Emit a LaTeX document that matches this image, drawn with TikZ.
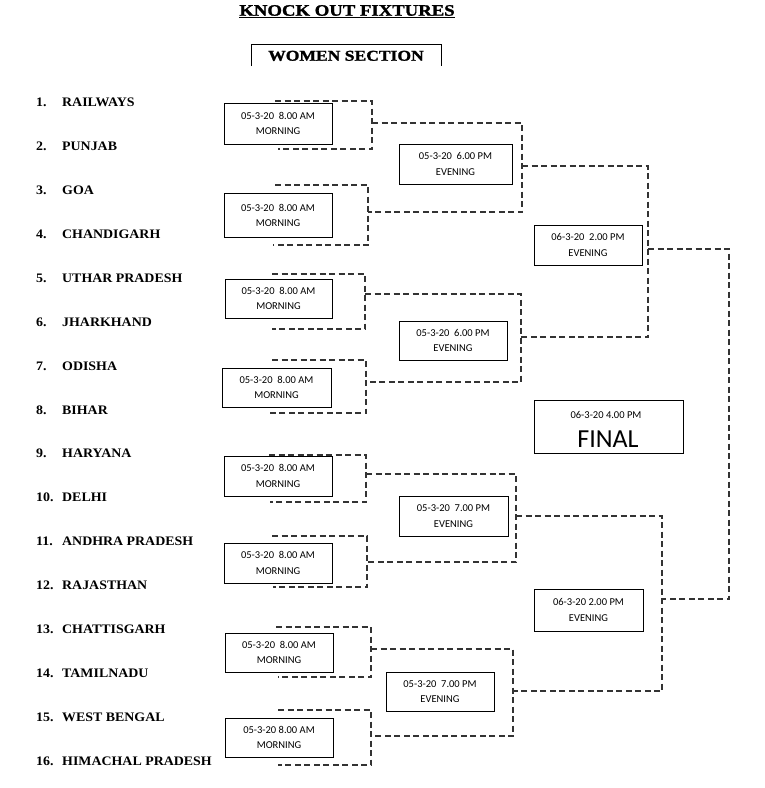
\documentclass[tikz,border=0pt]{standalone}
\usepackage{fontspec}
\newfontfamily\teamfont[FakeStretch=1.07]{Liberation Serif}
\newfontfamily\boxfont{Carlito}
\newfontfamily\titlefont[FakeStretch=1.17,FakeBold=1.5]{Liberation Serif}
\tikzset{
  mbox/.style={draw, line width=0.9pt, inner sep=0pt, align=center,
    font=\boxfont\fontsize{10.5}{15.5}\selectfont},
  bline/.style={draw=black!80, line width=1.3pt, dash pattern=on 6pt off 3.5pt},
  teamnum/.style={anchor=base west, inner sep=0pt, font=\teamfont\bfseries\fontsize{13}{13}\selectfont},
  frame/.style={line width=0.9pt}
}
\newcommand{\brk}[6]{%
  \coordinate (#1a) at (#2,#3);
  \coordinate (#1b) at (#4,#3);
  \coordinate (#1c) at (#4,#6);
  \coordinate (#1d) at (#5,#6);
  \draw[bline] (#1a) -- (#1b) -- (#1c) -- (#1d);}
\begin{document}
\begin{tikzpicture}[x=1pt,y=-1pt]
\useasboundingbox (0,0) rectangle (765,788);
% titles
\node[anchor=base, inner sep=0pt, font=\titlefont\bfseries\fontsize{16}{16}\selectfont] (title) at (347,15.7) {KNOCK OUT FIXTURES};
\draw[line width=1.1pt] ([yshift=-2pt]title.base west) -- ([yshift=-2pt]title.base east);
\node[anchor=base, inner sep=0pt, font=\titlefont\bfseries\fontsize{15}{15}\selectfont] (ws) at (346,60.7) {WOMEN SECTION};
\coordinate (wsA) at (251,66); \coordinate (wsB) at (251,44);
\coordinate (wsC) at (441,44); \coordinate (wsD) at (441,66);
\draw[frame] (wsA) -- (wsB) -- (wsC) -- (wsD);
% teams
\foreach \i/\t in {1/RAILWAYS,2/PUNJAB,3/GOA,4/CHANDIGARH,5/UTHAR PRADESH,6/JHARKHAND,7/ODISHA,8/BIHAR,9/HARYANA,10/DELHI,11/ANDHRA PRADESH,12/RAJASTHAN,13/CHATTISGARH,14/TAMILNADU,15/WEST BENGAL,16/HIMACHAL PRADESH}{
  \node[teamnum] (n\i) at (36,{106.5+43.93*(\i-1)}) {\i.};
  \node[teamnum] (t\i) at (62,{106.5+43.93*(\i-1)}) {\t};
}
% round 1 brackets
\brk{B1}{275}{101}{372}{278}{149}
\brk{B2}{275}{185}{368}{273}{245}
\brk{B3}{272}{274}{365}{272}{329}
\brk{B4}{272}{360}{366}{270}{413}
\brk{B5}{269}{455}{366}{270}{502}
\brk{B6}{272}{536}{367}{273}{587}
\brk{B7}{276}{627}{371}{278}{677}
\brk{B8}{278}{710}{371}{278}{765}
% round 2 brackets
\brk{R2a}{372}{123}{522}{368}{212}
\brk{R2b}{365}{294}{521}{366}{382}
\brk{R2c}{366}{474}{516}{367}{562}
\brk{R2d}{371}{649}{513}{371}{736}
% round 3 brackets
\brk{R3a}{522}{166}{648}{521}{337}
\brk{R3b}{516}{516}{662}{513}{691}
% final bracket
\brk{F}{648}{249}{729}{662}{599}
% round 1 boxes
\node[mbox, minimum width=108pt, minimum height=41pt] (m1) at (278,123.5) {05-3-20\ \ 8.00 AM\\MORNING};
\node[mbox, minimum width=108pt, minimum height=44pt] (m2) at (278,215.5) {05-3-20\ \ 8.00 AM\\MORNING};
\node[mbox, minimum width=107pt, minimum height=39pt] (m3) at (278.5,298.5) {05-3-20\ \ 8.00 AM\\MORNING};
\node[mbox, minimum width=109pt, minimum height=39pt] (m4) at (276.5,387.5) {05-3-20\ \ 8.00 AM\\MORNING};
\node[mbox, minimum width=108pt, minimum height=40pt] (m5) at (278,476) {05-3-20\ \ 8.00 AM\\MORNING};
\node[mbox, minimum width=108pt, minimum height=40pt] (m6) at (278,563) {05-3-20\ \ 8.00 AM\\MORNING};
\node[mbox, minimum width=108pt, minimum height=39pt] (m7) at (279,652.5) {05-3-20\ \ 8.00 AM\\MORNING};
\node[mbox, minimum width=108pt, minimum height=39pt] (m8) at (279,737.5) {05-3-20 8.00 AM\\MORNING};
% round 2 boxes
\node[mbox, minimum width=113pt, minimum height=40pt] (e1) at (455.5,164) {05-3-20\ \ 6.00 PM\\EVENING};
\node[mbox, minimum width=108pt, minimum height=39pt] (e2) at (453,340.5) {05-3-20\ \ 6.00 PM\\EVENING};
\node[mbox, minimum width=109pt, minimum height=40pt] (e3) at (453.5,516) {05-3-20\ \ 7.00 PM\\EVENING};
\node[mbox, minimum width=108pt, minimum height=39pt] (e4) at (440,691.5) {05-3-20\ \ 7.00 PM\\EVENING};
% round 3 boxes
\node[mbox, minimum width=108pt, minimum height=40pt] (s1) at (588,245) {06-3-20\ \ 2.00 PM\\EVENING};
\node[mbox, minimum width=109pt, minimum height=42pt] (s2) at (588.5,610) {06-3-20 2.00 PM\\EVENING};
% final
\node[mbox, minimum width=149pt, minimum height=53pt] (fin) at (608.5,427) {};
\node[anchor=base, inner sep=0pt, font=\boxfont\fontsize{10.5}{10.5}\selectfont] (fdate) at (606,418.5) {06-3-20 4.00 PM};
\node[anchor=base, inner sep=0pt, font=\boxfont\fontsize{26}{26}\selectfont] (ftxt) at (608,447) {FINAL};
\end{tikzpicture}
\end{document}
